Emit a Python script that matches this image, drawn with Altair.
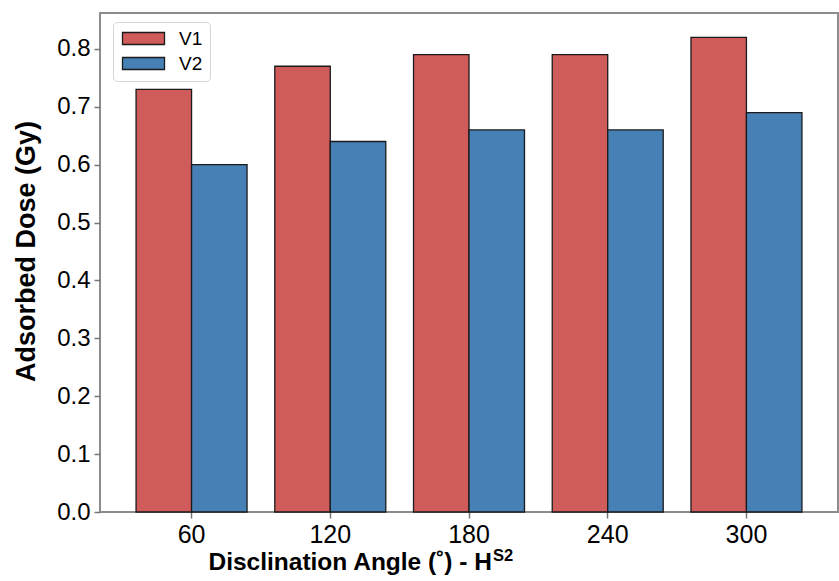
import altair as alt
import pandas as pd

angles = ["60", "120", "180", "240", "300"]
series_names = ["V1", "V2"]
v1_values = [0.73, 0.77, 0.79, 0.79, 0.82]
v2_values = [0.60, 0.64, 0.66, 0.66, 0.69]
y_ticks = [0.0, 0.1, 0.2, 0.3, 0.4, 0.5, 0.6, 0.7, 0.8]
y_title = "Adsorbed Dose (Gy)"
x_title_main = "Disclination Angle (˚) - H"
x_title_sup = "S2"

RED = "#D05B5B"
BLUE = "#4680B5"
FONT = "Liberation Sans"

rows = []
for a, v in zip(angles, v1_values):
    rows.append({"angle": a, "series": "V1", "value": v})
for a, v in zip(angles, v2_values):
    rows.append({"angle": a, "series": "V2", "value": v})
df = pd.DataFrame(rows)

bars = alt.Chart(df).mark_bar(stroke="#1a1a1a", strokeWidth=1.3).encode(
    x=alt.X(
        "angle:N",
        sort=angles,
        scale=alt.Scale(paddingInner=0.2, paddingOuter=0.26),
        axis=alt.Axis(
            title=None,
            labelAngle=0,
            labelFont=FONT,
            labelFontSize=25,
            labelColor="black",
            labelPadding=4,
            tickSize=6,
            tickColor="#777777",
            tickWidth=1.5,
            domain=False,
            grid=False,
        ),
    ),
    xOffset=alt.XOffset(
        "series:N", sort=series_names, scale=alt.Scale(paddingInner=0, paddingOuter=0)
    ),
    y=alt.Y(
        "value:Q",
        scale=alt.Scale(domain=[0, 0.862], nice=False, zero=True),
        axis=alt.Axis(
            values=y_ticks,
            format=".1f",
            title=y_title,
            titleFont=FONT,
            titleFontSize=27,
            titleFontWeight="bold",
            titleColor="black",
            titleAngle=-90,
            titleAlign="center",
            titleBaseline="middle",
            titleX=-74,
            titleY=238,
            labelFont=FONT,
            labelFontSize=24,
            labelColor="black",
            labelPadding=4,
            tickSize=6,
            tickColor="#777777",
            tickWidth=1.5,
            domain=False,
            grid=False,
        ),
    ),
    color=alt.Color(
        "series:N",
        sort=series_names,
        scale=alt.Scale(domain=series_names, range=[RED, BLUE]),
        legend=alt.Legend(
            title=None,
            orient="none",
            legendX=13,
            legendY=9,
            symbolType="M-1,-0.86H5V0.86H-1Z",
            symbolSize=196,
            symbolStrokeColor="#1a1a1a",
            symbolStrokeWidth=1.3,
            symbolOpacity=1,
            labelFont=FONT,
            labelFontSize=19,
            labelColor="black",
            labelOffset=40,
            rowPadding=5,
            padding=7,
            fillColor="white",
            strokeColor="#d6d6d6",
            cornerRadius=4,
        ),
    ),
)

title_main = alt.Chart(pd.DataFrame({"t": [x_title_main]})).mark_text(
    align="right", baseline="alphabetic", font=FONT, fontSize=24.5, fontWeight="bold", color="black"
).encode(text="t:N", x=alt.value(392), y=alt.value(557))

title_sup = alt.Chart(pd.DataFrame({"t": [x_title_sup]})).mark_text(
    align="left", baseline="alphabetic", font=FONT, fontSize=16.5, fontWeight="bold", color="black"
).encode(text="t:N", x=alt.value(393), y=alt.value(548))

chart = (
    alt.layer(bars, title_main, title_sup)
    .properties(
        width=738,
        height=499,
        autosize=alt.AutoSizeParams(type="none"),
        padding={"left": 100, "top": 13, "right": 1, "bottom": 69},
        background="white",
    )
    .configure_view(stroke="#8c8c8c", strokeWidth=2)
)

chart.save("out.html", embed_options={"renderer": "svg", "actions": False})
